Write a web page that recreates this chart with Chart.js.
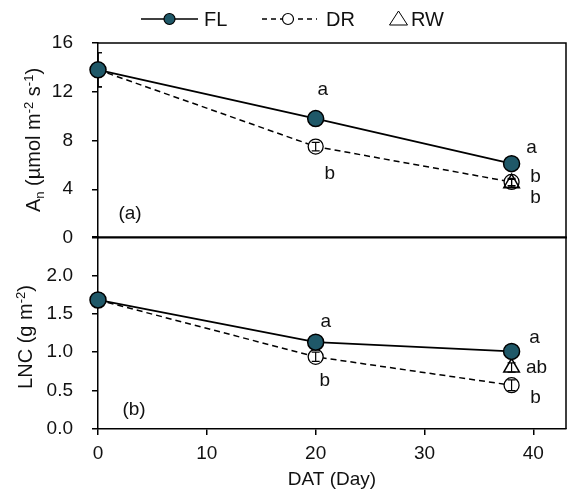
<!DOCTYPE html>
<html>
<head>
<meta charset="utf-8">
<script src="https://cdn.jsdelivr.net/npm/chart.js@4.4.1/dist/chart.umd.min.js"></script>
<style>
  html, body { margin: 0; padding: 0; background: #fff; overflow: hidden; }
  #contenedor { position: relative; width: 568px; height: 496px; }
  #graficaAn { position: absolute; left: 0; top: 0; }
  #graficaLNC { position: absolute; left: 0; top: 228px; }
</style>
</head>
<body>
<div id="contenedor">
  <canvas id="graficaAn" width="568" height="262"></canvas>
  <canvas id="graficaLNC" width="568" height="268"></canvas>
</div>
<script>
// días después del trasplante
const dias = [0, 20, 38]
const diasRW = [38]

// fotosíntesis neta (µmol m-2 s-1)
const anFL = [13.8, 9.8, 6.1]
const anDR = [13.8, 7.5, 4.6]
const anRW = [4.5]
const anErrFL = [1.4, 0.2, 0.2]
const anErrDR = [1.4, 0.35, 0.3]
const anErrRW = [0.3]
const letrasAnFL = ['', 'a', 'a']
const letrasAnDR = ['', 'b', 'b']
const letrasAnRW = ['b']

// contenido de nitrógeno foliar (g m-2)
const lncFL = [1.68, 1.13, 1.01]
const lncDR = [1.68, 0.94, 0.57]
const lncRW = [0.80]
const lncErrFL = [0.04, 0.03, 0.03]
const lncErrDR = [0.04, 0.06, 0.07]
const lncErrRW = [0.06]
const letrasLncFL = ['', 'a', 'a']
const letrasLncDR = ['', 'b', 'b']
const letrasLncRW = ['ab']

const fuente = '"Liberation Sans", Arial, sans-serif'
const azul = '#1f5868'

const puntos = (xs, ys) => xs.map((x, i) => ({ x: x, y: ys[i] }))

// caja: borde superior y derecho del área de trazado
const caja = {
  id: 'caja',
  beforeDatasetsDraw(chart) {
    const { ctx, chartArea: a } = chart
    ctx.save()
    ctx.strokeStyle = '#000'
    ctx.lineWidth = 1.5
    ctx.beginPath()
    ctx.moveTo(a.left, a.top)
    ctx.lineTo(a.right, a.top)
    ctx.lineTo(a.right, a.bottom)
    ctx.stroke()
    ctx.restore()
  }
}

// barras de error verticales
function dibujarErrores(chart, i, encima) {
  const ds = chart.data.datasets[i]
  if (!ds.errores || !!ds.erroresEncima !== encima) return
  const meta = chart.getDatasetMeta(i)
  const ys = chart.scales.y
  const a = chart.chartArea
  const ctx = chart.ctx
  ctx.save()
  ctx.beginPath()
  ctx.rect(a.left, a.top - 20, a.right - a.left + 20, a.bottom - a.top + 40)
  ctx.clip()
  ctx.strokeStyle = '#000'
  ctx.lineWidth = 1.2
  meta.data.forEach((p, j) => {
    const v = ds.data[j].y
    const e = ds.errores[j]
    const y1 = ys.getPixelForValue(v + e)
    const y2 = ys.getPixelForValue(v - e)
    ctx.beginPath()
    ctx.moveTo(p.x, y1); ctx.lineTo(p.x, y2)
    ctx.moveTo(p.x - 4, y1); ctx.lineTo(p.x + 4, y1)
    ctx.moveTo(p.x - 4, y2); ctx.lineTo(p.x + 4, y2)
    ctx.stroke()
  })
  ctx.restore()
}
const barrasError = {
  id: 'barrasError',
  beforeDatasetDraw(chart, args) { dibujarErrores(chart, args.index, false) },
  afterDatasetDraw(chart, args) { dibujarErrores(chart, args.index, true) }
}

// letras de significancia junto a cada punto
const letras = {
  id: 'letras',
  afterDatasetsDraw(chart) {
    const ctx = chart.ctx
    ctx.save()
    ctx.font = '19px ' + fuente
    ctx.fillStyle = '#111'
    ctx.textAlign = 'center'
    ctx.textBaseline = 'middle'
    chart.data.datasets.forEach((ds, i) => {
      if (!ds.letras) return
      chart.getDatasetMeta(i).data.forEach((p, j) => {
        if (!ds.letras[j]) return
        const off = ds.letrasOff[j]
        ctx.fillText(ds.letras[j], p.x + off[0], p.y + off[1])
      })
    })
    ctx.restore()
  }
}

// título del eje y con subíndices y superíndices, y etiqueta del panel
const tituloY = {
  id: 'tituloY',
  afterDraw(chart, args, opts) {
    const ctx = chart.ctx
    ctx.save()
    ctx.fillStyle = '#111'
    ctx.textBaseline = 'alphabetic'
    ctx.textAlign = 'left'
    const medir = (t) => {
      ctx.font = (t.sub || t.sup ? '13px ' : '20px ') + fuente
      return ctx.measureText(t.t).width
    }
    const total = opts.partes.reduce((s, t) => s + medir(t), 0)
    ctx.translate(opts.x, opts.y)
    ctx.rotate(-Math.PI / 2)
    let x = -total / 2
    opts.partes.forEach(t => {
      const w = medir(t)
      const dy = t.sub ? 4 : (t.sup ? -7 : 0)
      ctx.fillText(t.t, x, dy)
      x += w
    })
    ctx.restore()

    ctx.save()
    ctx.font = '19px ' + fuente
    ctx.fillStyle = '#111'
    ctx.textAlign = 'center'
    ctx.textBaseline = 'middle'
    ctx.fillText(opts.panel, opts.panelX, opts.panelY)
    ctx.restore()
  }
}

// leyenda dibujada encima del panel superior
const leyenda = {
  id: 'leyenda',
  afterDraw(chart) {
    const ctx = chart.ctx
    const y = 19
    ctx.save()
    ctx.strokeStyle = '#000'
    ctx.lineWidth = 1.5
    ctx.beginPath(); ctx.moveTo(141, y); ctx.lineTo(198, y); ctx.stroke()
    ctx.setLineDash([5, 4])
    ctx.beginPath(); ctx.moveTo(262, y); ctx.lineTo(317, y); ctx.stroke()
    ctx.setLineDash([])
    ctx.lineWidth = 1.2
    ctx.beginPath(); ctx.arc(169.5, y, 5.5, 0, Math.PI * 2)
    ctx.fillStyle = azul; ctx.fill(); ctx.stroke()
    ctx.beginPath(); ctx.arc(288, y, 5.5, 0, Math.PI * 2)
    ctx.fillStyle = '#fff'; ctx.fill(); ctx.stroke()
    ctx.lineWidth = 1
    ctx.beginPath()
    ctx.moveTo(398.5, y - 8); ctx.lineTo(407.5, y + 6); ctx.lineTo(389.5, y + 6); ctx.closePath()
    ctx.fill(); ctx.stroke()
    ctx.fillStyle = '#111'
    ctx.font = '20px ' + fuente
    ctx.textBaseline = 'middle'
    ctx.fillText('FL', 204, y + 1)
    ctx.fillText('DR', 326, y + 1)
    ctx.fillText('RW', 411, y + 1)
    ctx.restore()
  }
}

function series(fl, dr, rw, eFL, eDR, eRW, lFL, lDR, lRW, offFL, offDR, offRW) {
  return [
    {
      label: 'FL', data: puntos(dias, fl), showLine: true,
      borderColor: '#000', borderWidth: 1.8,
      pointRadius: 8, pointBackgroundColor: azul, pointBorderColor: '#000', pointBorderWidth: 1.5,
      errores: eFL, erroresEncima: false, letras: lFL, letrasOff: offFL, clip: false
    },
    {
      label: 'RW', data: puntos(diasRW, rw), showLine: false,
      pointStyle: 'triangle', pointRadius: 9, pointBackgroundColor: 'rgba(0,0,0,0)',
      pointBorderColor: '#000', pointBorderWidth: 1.5,
      errores: eRW, erroresEncima: true, letras: lRW, letrasOff: offRW, clip: false
    },
    {
      label: 'DR', data: puntos(dias, dr), showLine: true,
      borderColor: '#000', borderWidth: 1.5, borderDash: [6, 4],
      pointRadius: 7.5, pointBackgroundColor: '#fff', pointBorderColor: '#000', pointBorderWidth: 1.3,
      errores: eDR, erroresEncima: true, letras: lDR, letrasOff: offDR, clip: false
    }
  ]
}

function ejeY(min, max, paso, callback) {
  return {
    type: 'linear', position: 'left', min: min, max: max,
    ticks: { stepSize: paso, padding: 19, color: '#111', font: { family: fuente, size: 19 }, callback: callback },
    grid: { drawOnChartArea: false, tickLength: 6, color: '#000', lineWidth: 1.5 },
    border: { color: '#000', width: 1.5 },
    // ancho fijo del eje y sin relleno extra arriba/abajo
    afterFit: (s) => { s.width = 98; s.paddingTop = 0; s.paddingBottom = 0 }
  }
}

function initChart(canvas, datasets, escalaY, ejeX, plugins, padding, titulo) {
  return new Chart(canvas, {
    type: 'scatter',
    data: { datasets: datasets },
    options: {
      responsive: false,
      animation: false,
      devicePixelRatio: 1,
      layout: { padding: padding, autoPadding: false },
      plugins: {
        legend: { display: false },
        tooltip: { enabled: false },
        tituloY: titulo
      },
      scales: { x: ejeX, y: escalaY }
    },
    plugins: plugins
  })
}

// panel (a): fotosíntesis
initChart(
  document.getElementById('graficaAn'),
  series(anFL, anDR, anRW, anErrFL, anErrDR, anErrRW, letrasAnFL, letrasAnDR, letrasAnRW,
    [null, [7, -29], [20, -16]], [null, [14, 27], [24, -5]], [[24, 15]]),
  ejeY(0, 16, 4, (v) => v),
  {
    type: 'linear', min: 0, max: 43,
    ticks: { display: false, stepSize: 10, includeBounds: false },
    grid: { drawOnChartArea: false, drawTicks: false },
    border: { color: '#000', width: 1.5 },
    afterFit: (s) => { s.height = 24 }
  },
  [caja, barrasError, letras, tituloY, leyenda],
  { top: 43, right: 2, left: 0, bottom: 0 },
  {
    partes: [{ t: 'A' }, { t: 'n', sub: true }, { t: ' (µmol m' }, { t: '-2', sup: true },
      { t: ' s' }, { t: '-1', sup: true }, { t: ')' }],
    x: 40, y: 140, panel: '(a)', panelX: 130, panelY: 214
  }
)

// panel (b): nitrógeno foliar
initChart(
  document.getElementById('graficaLNC'),
  series(lncFL, lncDR, lncRW, lncErrFL, lncErrDR, lncErrRW, letrasLncFL, letrasLncDR, letrasLncRW,
    [null, [10, -20], [23, -14]], [null, [9, 24], [24, 13]], [[25, 0]]),
  ejeY(0, 2.5, 0.5, (v) => v === 2.5 ? '' : v.toFixed(1)),
  {
    type: 'linear', min: 0, max: 43,
    ticks: { stepSize: 10, includeBounds: false, padding: 7, color: '#111', font: { family: fuente, size: 19 } },
    grid: { drawOnChartArea: false, tickLength: 6, color: '#000', lineWidth: 1.5 },
    border: { color: '#000', width: 1.5 },
    title: { display: true, text: 'DAT (Day)', color: '#111', font: { family: fuente, size: 19 }, padding: { top: 0, bottom: 5 } },
    afterFit: (s) => { s.height = 67 }
  },
  [caja, barrasError, letras, tituloY],
  { top: 9, right: 2, left: 0, bottom: 0 },
  {
    partes: [{ t: 'LNC (g m' }, { t: '-2', sup: true }, { t: ')' }],
    x: 32, y: 337 - 228, panel: '(b)', panelX: 134, panelY: 410 - 228
  }
)
</script>
</body>
</html>
